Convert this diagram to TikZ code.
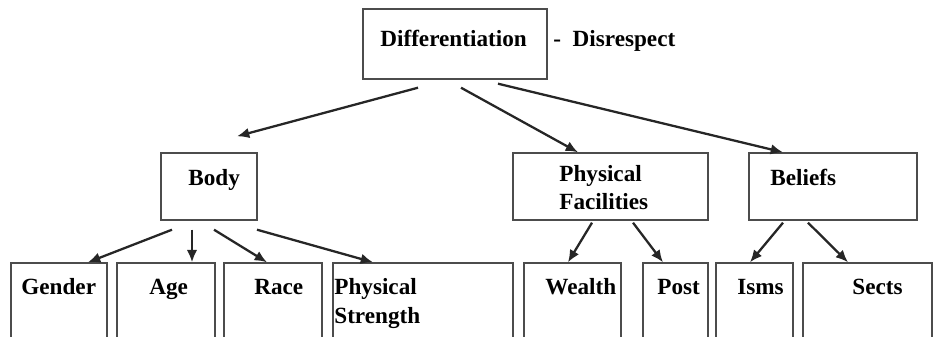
\documentclass[tikz,border=0pt]{standalone}
\usepackage{fontspec}
\setmainfont{Liberation Serif}
\usetikzlibrary{arrows.meta}
\newcommand{\pxu}{0.02cm}
\tikzset{
  box/.style={draw=black!70,line width=0.8pt,inner sep=0pt},
  term/.style={anchor=base west,inner sep=0pt,align=left,
    font=\fontsize{13.2}{16.5}\selectfont\bfseries},
  arrow/.style={-{Latex[length=7pt,width=6pt]},line width=1.3pt,black!85}
}
\begin{document}
\begin{tikzpicture}[x=\pxu,y=-\pxu]
      \useasboundingbox (0,0) rectangle (935,337);
      \clip (0,0) rectangle (935,337);
      % boxes
      \node[box,minimum width=184*\pxu,minimum height=70*\pxu] (diff) at (455,44) {};
      \node[box,minimum width=96*\pxu,minimum height=67*\pxu] (body) at (209,186.5) {};
      \node[box,minimum width=195*\pxu,minimum height=67*\pxu] (facil) at (610.5,186.5) {};
      \node[box,minimum width=168*\pxu,minimum height=67*\pxu] (beliefs) at (833,186.5) {};
      \node[box,minimum width=96*\pxu,minimum height=87*\pxu] (gender) at (59,306.5) {};
      \node[box,minimum width=98*\pxu,minimum height=87*\pxu] (age) at (166,306.5) {};
      \node[box,minimum width=98*\pxu,minimum height=87*\pxu] (race) at (273,306.5) {};
      \node[box,minimum width=180*\pxu,minimum height=87*\pxu] (strength) at (423,306.5) {};
      \node[box,minimum width=97*\pxu,minimum height=87*\pxu] (wealth) at (572.5,306.5) {};
      \node[box,minimum width=65*\pxu,minimum height=87*\pxu] (post) at (675.5,306.5) {};
      \node[box,minimum width=77*\pxu,minimum height=87*\pxu] (isms) at (754.5,306.5) {};
      \node[box,minimum width=129*\pxu,minimum height=87*\pxu] (sects) at (867.5,306.5) {};
      % texts (two-line ones sit on their last baseline)
      \node[term] (diff-t) at (380,47) {Differentiation};
      \node[term] (disr-t) at (553,47) {-\ \ Disrespect};
      \node[term] (body-t) at (188,186) {Body};
      \node[term] (facil-t) at (559,210) {Physical\\Facilities};
      \node[term] (beliefs-t) at (770,186) {Beliefs};
      \node[term] (gender-t) at (21,295) {Gender};
      \node[term] (age-t) at (149,295) {Age};
      \node[term] (race-t) at (254,295) {Race};
      \node[term] (strength-t) at (334,323) {Physical\\Strength};
      \node[term] (wealth-t) at (545,295) {Wealth};
      \node[term] (post-t) at (657,295) {Post};
      \node[term] (isms-t) at (737,295) {Isms};
      \node[term] (sects-t) at (852,295) {Sects};
      % arrows
      \draw[arrow] ([shift={(-37,8)}]diff.south) -- ([shift={(28,-16)}]body.north);
      \draw[arrow] ([shift={(6,8)}]diff.south) -- ([shift={(-32.5,0)}]facil.north);
      \draw[arrow] ([shift={(43,4)}]diff.south) -- ([shift={(-50,0)}]beliefs.north);
      \draw[arrow] ([shift={(-37,9)}]body.south) -- ([shift={(29,0)}]gender.north);
      \draw[arrow] ([shift={(-17,9)}]body.south) -- ([shift={(26,0)}]age.north);
      \draw[arrow] ([shift={(5,9)}]body.south) -- ([shift={(-6,0)}]race.north);
      \draw[arrow] ([shift={(48,9)}]body.south) -- ([shift={(-50,0)}]strength.north);
      \draw[arrow] ([shift={(-18.5,2)}]facil.south) -- ([shift={(-4.5,0)}]wealth.north);
      \draw[arrow] ([shift={(22.5,2)}]facil.south) -- ([shift={(-12.5,0)}]post.north);
      \draw[arrow] ([shift={(-50,2)}]beliefs.south) -- ([shift={(-4.5,0)}]isms.north);
      \draw[arrow] ([shift={(-25,2)}]beliefs.south) -- ([shift={(-19.5,0)}]sects.north);
    \end{tikzpicture}
\end{document}
